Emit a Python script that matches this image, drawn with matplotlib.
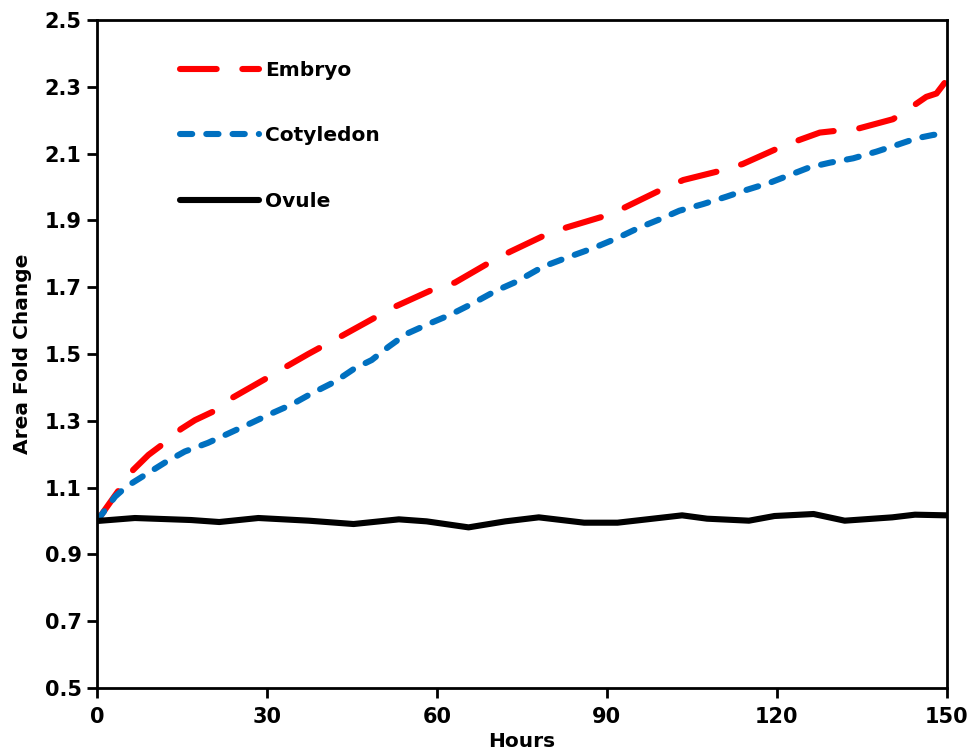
import matplotlib
matplotlib.use("Agg")
import matplotlib.pyplot as plt

plt.rcParams["font.family"] = ["DejaVu Sans"]
plt.rcParams["font.weight"] = "bold"

# values
embryo_h = [0, 4.1, 6.4, 9.1, 11.7, 14.8, 17.3, 20.8, 24, 30.2, 33.6, 37.3,
            39.9, 43.2, 49.6, 52.9, 59.4, 63.2, 69.1, 72.9, 79.1, 82.9, 89.6,
            93.2, 99.5, 103.5, 109.9, 114, 120.2, 124, 127.6, 130.8, 134.6,
            140.5, 141.7, 144.6, 146.4, 148.2, 150]
embryo = [1.0, 1.098, 1.153, 1.198, 1.231, 1.275, 1.302, 1.330, 1.370, 1.430,
          1.464, 1.500, 1.524, 1.554, 1.614, 1.644, 1.694, 1.714, 1.772, 1.806,
          1.856, 1.879, 1.913, 1.939, 1.991, 2.021, 2.048, 2.069, 2.116, 2.141,
          2.163, 2.169, 2.176, 2.203, 2.216, 2.249, 2.270, 2.280, 2.320]

coty_h = [0, 3.2, 5.2, 8.5, 12, 15.5, 19.6, 23.2, 27.3, 30.8, 34.4, 37.9, 42,
          45.5, 48.5, 51.5, 54.6, 58.8, 62.3, 66.4, 70.5, 74.1, 78.8, 83.5,
          87.6, 91.7, 95.8, 99.3, 102.8, 107, 111.1, 114.6, 118.8, 122.3,
          125.8, 129.4, 133.5, 137.6, 141.2, 144.7, 147.6, 150]
coty = [1.0, 1.073, 1.103, 1.138, 1.175, 1.208, 1.234, 1.262, 1.294, 1.322,
        1.349, 1.382, 1.417, 1.457, 1.482, 1.522, 1.560, 1.592, 1.617, 1.652,
        1.690, 1.717, 1.762, 1.792, 1.817, 1.846, 1.879, 1.903, 1.929, 1.949,
        1.971, 1.991, 2.013, 2.036, 2.059, 2.073, 2.086, 2.106, 2.126, 2.146,
        2.156, 2.161]

ovule_h = [0, 6.7, 16.6, 21.6, 28.5, 37.4, 45.3, 53.3, 58.2, 65.6, 72.1, 78,
           86, 91.9, 103.3, 107.7, 115.1, 119.6, 126.5, 132, 140.4, 144.4, 150]
ovule = [1.0, 1.009, 1.003, 0.997, 1.009, 1.001, 0.991, 1.005, 0.999, 0.981,
         0.999, 1.011, 0.995, 0.995, 1.017, 1.007, 1.001, 1.015, 1.021, 1.001,
         1.011, 1.019, 1.017]

x_ticks = [0, 30, 60, 90, 120, 150]
y_ticks = [0.5, 0.7, 0.9, 1.1, 1.3, 1.5, 1.7, 1.9, 2.1, 2.3, 2.5]

fig = plt.figure(figsize=(9.79, 7.53), dpi=100)
ax = fig.add_axes([0.099, 0.0863, 0.868, 0.8871])

lw = 4.4
ax.plot(embryo_h, embryo, color="#ff0000", lw=lw, dashes=(6.0, 4.2),
        dash_capstyle="round", dash_joinstyle="round", label="Embryo")
ax.plot(coty_h, coty, color="#0070c0", lw=lw, dashes=(2.0, 2.3),
        dash_capstyle="round", dash_joinstyle="round", label="Cotyledon")
ax.plot(ovule_h, ovule, color="black", lw=lw, solid_capstyle="round",
        solid_joinstyle="round", label="Ovule")

ax.set_xlim(0, 150)
ax.set_ylim(0.5, 2.5)
ax.set_xticks(x_ticks)
ax.set_yticks(y_ticks)
ax.set_yticklabels([f"{v:.1f}" for v in y_ticks])
ax.tick_params(direction="out", length=7, width=2, labelsize=15)
ax.tick_params(axis="y", pad=4)
ax.tick_params(axis="x", pad=7)
for s in ax.spines.values():
    s.set_linewidth(2)

ax.set_xlabel("Hours", fontsize=14.5, fontweight="bold", labelpad=3)
ax.set_ylabel("Area Fold Change", fontsize=14.5, fontweight="bold", labelpad=9)

ax.legend(loc="upper left", bbox_to_anchor=(0.098, 0.939), frameon=False,
          handlelength=3.9, handletextpad=0.3, labelspacing=2.32,
          borderpad=0, borderaxespad=0, prop={"weight": "bold", "size": 14.5})

fig.savefig("out.png", dpi=100)
